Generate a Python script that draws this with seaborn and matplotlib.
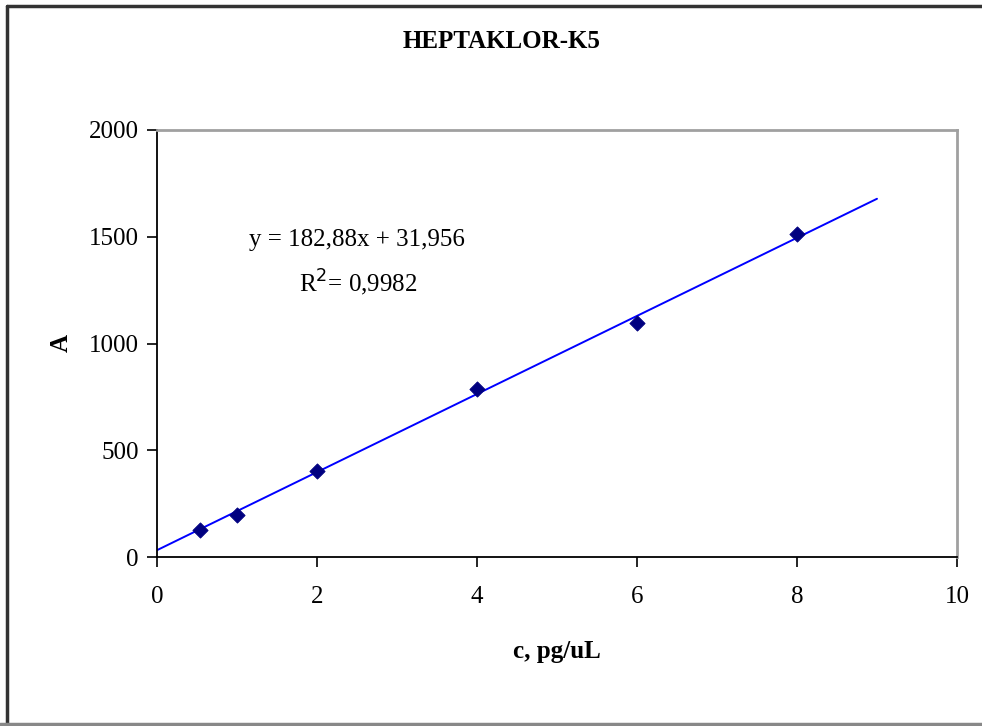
import matplotlib
matplotlib.use("Agg")
import matplotlib.pyplot as plt
from matplotlib.lines import Line2D
import pandas as pd
import seaborn as sns

sns.set_theme(style="white")
plt.rcParams['font.family'] = ['Liberation Serif', 'DejaVu Serif']
plt.rcParams['text.color'] = 'black'
plt.rcParams['axes.labelcolor'] = 'black'

# calibration data
conc = [0.54, 1.0, 2.0, 4.0, 6.0, 8.0]
area = [126, 197, 403, 787, 1096, 1513]
slope = 182.88
intercept = 31.956
r2 = "0,9982"
fit_x = [0.0, 9.0]

df = pd.DataFrame({"c": conc, "A": area})
fit = pd.DataFrame({"c": fit_x, "A": [slope * v + intercept for v in fit_x]})

fig = plt.figure(figsize=(9.82, 7.26), dpi=100)
ax = fig.add_axes([157 / 982, 1 - 557 / 726, 800 / 982, 427 / 726])

sns.lineplot(data=fit, x="c", y="A", ax=ax, color="#0000ff", linewidth=1.4)
sns.scatterplot(data=df, x="c", y="A", ax=ax, marker="D", s=60,
                color="#000080", edgecolor="#000080", zorder=3)

ax.set_xlim(0, 10)
ax.set_ylim(0, 2000)
ax.set_xticks(range(0, 11, 2))
ax.set_yticks(range(0, 2001, 500))
ax.tick_params(axis="both", direction="out", length=7, width=1.2,
               labelsize=18, colors="black")
ax.tick_params(axis="x", pad=14)
ax.tick_params(axis="y", pad=6)
ax.tick_params(top=False, right=False, bottom=True, left=True)

for side in ["left", "bottom"]:
    ax.spines[side].set_color("black")
    ax.spines[side].set_linewidth(1.3)
for side in ["top", "right"]:
    ax.spines[side].set_color("#a0a0a0")
    ax.spines[side].set_linewidth(2)

ax.set_xlabel("c, pg/uL", fontsize=18, fontweight="bold", labelpad=23)
ax.set_ylabel("A", fontsize=18, fontweight="bold", labelpad=12)

fig.text(502 / 982, 1 - 42 / 726, "HEPTAKLOR-K5",
         ha="center", va="center", fontsize=18, fontweight="bold")

ax.text(2.5, 1485, "y = 182,88x + 31,956", ha="center", va="center",
        fontsize=18)
ax.text(2.52, 1283, "R$^{2}$= " + r2, ha="center", va="center", fontsize=18)

# outer chart border
fig.add_artist(Line2D([7 / 982, 7 / 982], [0, 1 - 6 / 726],
                      transform=fig.transFigure, color="#333333", lw=2.5))
fig.add_artist(Line2D([7 / 982, 1], [1 - 6 / 726, 1 - 6 / 726],
                      transform=fig.transFigure, color="#333333", lw=2.5))
fig.add_artist(Line2D([0, 1], [2 / 726, 2 / 726],
                      transform=fig.transFigure, color="#888888", lw=2.5))

fig.savefig("out.png", dpi=100)
